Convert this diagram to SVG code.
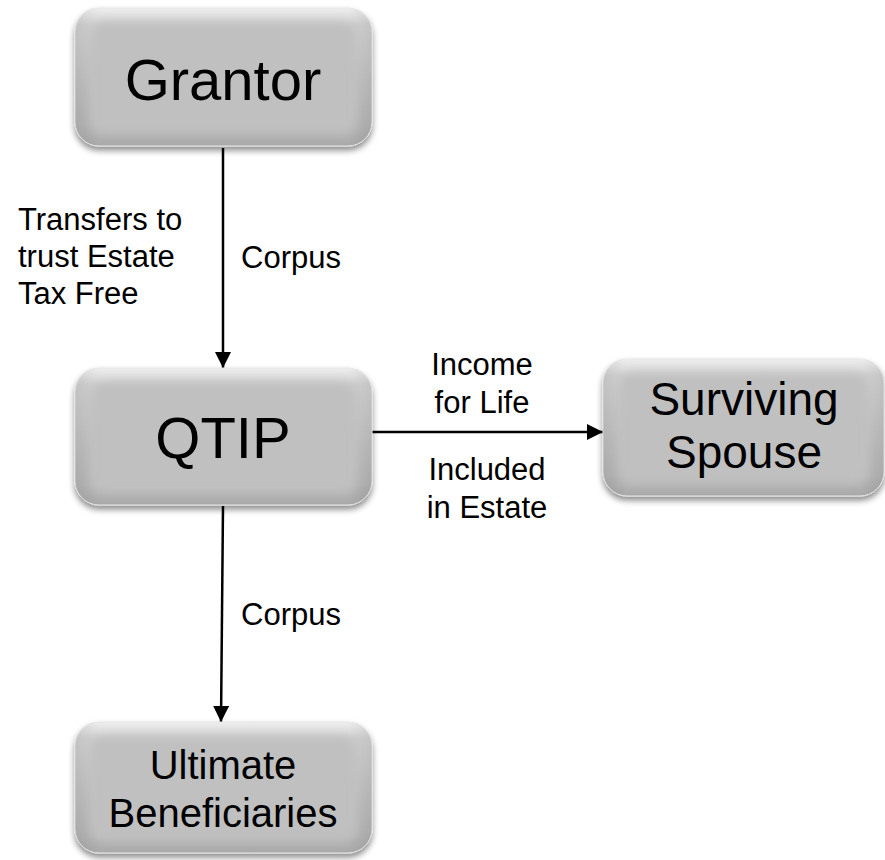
<svg xmlns="http://www.w3.org/2000/svg" width="885" height="860" viewBox="0 0 885 860">
  <defs>
    <linearGradient id="boxEdge" x1="0" y1="0" x2="0" y2="1">
      <stop offset="0" stop-color="#eeeeee"/>
      <stop offset="0.12" stop-color="#d2d2d2"/>
      <stop offset="0.85" stop-color="#b6b6b6"/>
      <stop offset="1" stop-color="#a9a9a9"/>
    </linearGradient>
    <linearGradient id="boxSide" x1="0" y1="0" x2="1" y2="0">
      <stop offset="0" stop-color="#000" stop-opacity="0.07"/>
      <stop offset="0.08" stop-color="#000" stop-opacity="0"/>
      <stop offset="0.92" stop-color="#000" stop-opacity="0"/>
      <stop offset="1" stop-color="#000" stop-opacity="0.07"/>
    </linearGradient>
    <filter id="shadow" x="-10%" y="-10%" width="120%" height="130%">
      <feDropShadow dx="0" dy="4" stdDeviation="3" flood-color="#000" flood-opacity="0.45"/>
    </filter>
    <filter id="soft" x="-10%" y="-10%" width="120%" height="120%">
      <feGaussianBlur stdDeviation="5"/>
    </filter>
    <marker id="arrow" viewBox="0 0 10 10" refX="10" refY="5" markerWidth="6.4" markerHeight="6.4" markerUnits="strokeWidth" orient="auto">
      <path d="M0,0 L10,5 L0,10 Z" fill="#000"/>
    </marker>
  </defs>
  <style>
    .box { fill: url(#boxEdge); stroke: #e6e6e6; stroke-width: 1; }
    .side { fill: url(#boxSide); }
    .face { fill: #c0c0c0; }
    .title { font-family: "Liberation Sans", Arial, sans-serif; fill: #000; text-anchor: middle; }
    .label { font-family: "Liberation Sans", Arial, sans-serif; fill: #000; font-size: 31px; }
    .conn { stroke: #000; stroke-width: 2.5; fill: none; marker-end: url(#arrow); }
  </style>

  <rect width="885" height="860" fill="#ffffff"/>

  <!-- connectors -->
  <g id="connectors">
    <line class="conn" x1="223" y1="148" x2="223" y2="368"/>
    <line class="conn" x1="372" y1="432" x2="603" y2="432"/>
    <line class="conn" x1="223" y1="506" x2="221" y2="722"/>
  </g>

  <!-- connector labels -->
  <g id="labels">
    <text class="label" x="18" y="230">Transfers to</text>
    <text class="label" x="18" y="267">trust Estate</text>
    <text class="label" x="18" y="304">Tax Free</text>
    <text class="label" x="241" y="268">Corpus</text>
    <text class="label" x="241" y="625">Corpus</text>
    <text class="label" x="482" y="375" text-anchor="middle">Income</text>
    <text class="label" x="482" y="413" text-anchor="middle">for Life</text>
    <text class="label" x="487" y="480" text-anchor="middle">Included</text>
    <text class="label" x="487" y="518" text-anchor="middle">in Estate</text>
  </g>

  <!-- Grantor -->
  <g id="grantor">
    <rect class="box" x="75" y="8" width="297" height="138" rx="24" filter="url(#shadow)"/>
    <rect class="side" x="75" y="8" width="297" height="138" rx="24"/>
    <rect class="face" x="90" y="22" width="267" height="112" rx="14" filter="url(#soft)"/>
    <text class="title" x="223" y="100" font-size="58">Grantor</text>
  </g>

  <!-- QTIP -->
  <g id="qtip">
    <rect class="box" x="75" y="368" width="297" height="137" rx="24" filter="url(#shadow)"/>
    <rect class="side" x="75" y="368" width="297" height="137" rx="24"/>
    <rect class="face" x="90" y="382" width="267" height="111" rx="14" filter="url(#soft)"/>
    <text class="title" x="223" y="458" font-size="58">QTIP</text>
  </g>

  <!-- Surviving Spouse -->
  <g id="spouse">
    <rect class="box" x="603" y="359" width="281" height="137" rx="24" filter="url(#shadow)"/>
    <rect class="side" x="603" y="359" width="281" height="137" rx="24"/>
    <rect class="face" x="618" y="373" width="251" height="111" rx="14" filter="url(#soft)"/>
    <text class="title" x="744" y="415" font-size="46">Surviving</text>
    <text class="title" x="744" y="468" font-size="46">Spouse</text>
  </g>

  <!-- Ultimate Beneficiaries -->
  <g id="beneficiaries">
    <rect class="box" x="75" y="722" width="297" height="131" rx="24" filter="url(#shadow)"/>
    <rect class="side" x="75" y="722" width="297" height="131" rx="24"/>
    <rect class="face" x="90" y="736" width="267" height="105" rx="14" filter="url(#soft)"/>
    <text class="title" x="223" y="779" font-size="40">Ultimate</text>
    <text class="title" x="223" y="827" font-size="40">Beneficiaries</text>
  </g>
</svg>
